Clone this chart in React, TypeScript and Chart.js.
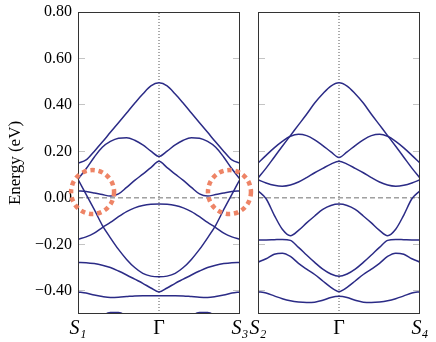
import React, { useEffect, useRef } from 'react';
import { Chart, registerables } from 'chart.js';

Chart.register(...registerables);

// path parameter (S -> Γ -> S), Γ at 0.5
const tGrid = [0, 0.05, 0.1, 0.15, 0.2, 0.25, 0.3, 0.35, 0.4, 0.45, 0.5, 0.55, 0.6, 0.65, 0.7, 0.75, 0.8, 0.85, 0.9, 0.95, 1];

// Left panel: S1 -> Γ -> S3
const left1 = [0.150, 0.163, 0.200, 0.240, 0.282, 0.323, 0.365, 0.407, 0.447, 0.482, 0.495, 0.482, 0.447, 0.407, 0.365, 0.323, 0.282, 0.240, 0.200, 0.163, 0.150];
const left2 = [0.080, 0.125, 0.175, 0.218, 0.243, 0.257, 0.259, 0.248, 0.228, 0.201, 0.178, 0.201, 0.228, 0.248, 0.259, 0.257, 0.243, 0.218, 0.175, 0.125, 0.080];
const left3 = [0.030, 0.027, 0.021, 0.014, 0.008, 0.017, 0.045, 0.075, 0.102, 0.130, 0.157, 0.130, 0.102, 0.075, 0.045, 0.017, 0.008, 0.014, 0.021, 0.027, 0.030];
const left4 = [-0.178, -0.168, -0.152, -0.128, -0.106, -0.081, -0.059, -0.043, -0.033, -0.028, -0.027, -0.028, -0.033, -0.043, -0.059, -0.081, -0.106, -0.128, -0.152, -0.168, -0.178];
const left5 = [0.080, 0.015, -0.050, -0.118, -0.172, -0.222, -0.265, -0.300, -0.325, -0.337, -0.340, -0.337, -0.325, -0.300, -0.265, -0.222, -0.172, -0.118, -0.050, 0.015, 0.080];
const left6 = [-0.278, -0.279, -0.283, -0.290, -0.300, -0.315, -0.332, -0.350, -0.368, -0.388, -0.405, -0.388, -0.368, -0.350, -0.332, -0.315, -0.300, -0.290, -0.283, -0.279, -0.278];
const left7 = [-0.405, -0.410, -0.418, -0.425, -0.429, -0.428, -0.425, -0.422, -0.421, -0.421, -0.421, -0.421, -0.421, -0.422, -0.425, -0.428, -0.429, -0.425, -0.418, -0.410, -0.405];
const left8 = [-0.560, -0.550, -0.535, -0.508, -0.494, -0.494, -0.508, -0.530, -0.548, -0.558, -0.560, -0.558, -0.548, -0.530, -0.508, -0.494, -0.494, -0.508, -0.535, -0.550, -0.560];

// Right panel: S2 -> Γ -> S4
const right1 = [0.085, 0.128, 0.175, 0.222, 0.268, 0.314, 0.360, 0.408, 0.448, 0.481, 0.495, 0.481, 0.448, 0.408, 0.360, 0.314, 0.268, 0.222, 0.175, 0.128, 0.085];
const right2 = [0.150, 0.183, 0.215, 0.243, 0.265, 0.274, 0.268, 0.250, 0.225, 0.198, 0.174, 0.198, 0.225, 0.250, 0.268, 0.274, 0.265, 0.243, 0.215, 0.183, 0.150];
const right3 = [0.078, 0.064, 0.054, 0.050, 0.055, 0.068, 0.087, 0.108, 0.127, 0.145, 0.158, 0.145, 0.127, 0.108, 0.087, 0.068, 0.055, 0.050, 0.054, 0.064, 0.078];
const right4 = [0.030, -0.004, -0.074, -0.135, -0.163, -0.140, -0.108, -0.078, -0.050, -0.033, -0.027, -0.033, -0.050, -0.078, -0.108, -0.140, -0.163, -0.135, -0.074, -0.004, 0.030];
const right5 = [-0.181, -0.181, -0.180, -0.179, -0.183, -0.213, -0.246, -0.278, -0.307, -0.328, -0.338, -0.328, -0.307, -0.278, -0.246, -0.213, -0.183, -0.179, -0.180, -0.181, -0.181];
const right6 = [-0.277, -0.262, -0.243, -0.238, -0.252, -0.282, -0.307, -0.330, -0.358, -0.385, -0.403, -0.385, -0.358, -0.330, -0.307, -0.282, -0.252, -0.238, -0.243, -0.262, -0.277];
const right7 = [-0.404, -0.410, -0.422, -0.434, -0.443, -0.448, -0.450, -0.449, -0.441, -0.429, -0.424, -0.429, -0.441, -0.449, -0.450, -0.448, -0.443, -0.434, -0.422, -0.410, -0.404];

const leftBands = [left1, left2, left3, left4, left5, left6, left7, left8];
const rightBands = [right1, right2, right3, right4, right5, right6, right7];

const yTicks = [-0.4, -0.2, 0, 0.2, 0.4, 0.6, 0.8];
const xTickValues = [0, 0.5, 1];
const leftXLabels = ['S\u2081', '\u0393', 'S\u2083'];
const rightXLabels = ['S\u2082', '\u0393', 'S\u2084'];

// highlighted regions (path parameter, energy)
const highlightT = [0.09, 0.935];
const highlightE = [0.025, 0.025];

const FONT = "'Liberation Serif', 'DejaVu Serif', serif";
const BAND_COLOR = '#2b2b86';

function fmt(v: number) {
  const r = Math.round(v * 100) / 100;
  return (r < 0 ? '\u2212' : '') + Math.abs(r).toFixed(2);
}

function makeDatasets(bands: number[][]) {
  const ds: any[] = bands.map((vals) => ({
    data: tGrid.map((t, i) => ({ x: t, y: vals[i] })),
    borderColor: BAND_COLOR,
    borderWidth: 1.5,
    pointRadius: 0,
    fill: false,
    cubicInterpolationMode: 'monotone',
  }));
  ds.push({
    data: [{ x: 0, y: 0 }, { x: 1, y: 0 }],
    borderColor: '#707070',
    borderWidth: 1,
    borderDash: [5, 3],
    pointRadius: 0,
    fill: false,
    tension: 0,
  });
  ds.push({
    data: [{ x: 0.5, y: -0.5 }, { x: 0.5, y: 0.8 }],
    borderColor: '#555555',
    borderWidth: 1,
    borderDash: [1, 2],
    pointRadius: 0,
    fill: false,
    tension: 0,
  });
  return ds;
}

const framePlugin = {
  id: 'frame',
  afterDatasetsDraw(chart: any) {
    const { ctx, chartArea } = chart;
    const l = Math.round(chartArea.left) + 0.5;
    const r = Math.round(chartArea.right) - 0.5;
    const t = Math.round(chartArea.top) + 0.5;
    const b = Math.round(chartArea.bottom) - 0.5;
    ctx.save();
    ctx.strokeStyle = '#333333';
    ctx.lineWidth = 1;
    ctx.setLineDash([]);
    ctx.strokeRect(l, t, r - l, b - t);
    ctx.restore();
  },
};

const circlePlugin = {
  id: 'circles',
  afterDraw(chart: any) {
    const { ctx } = chart;
    const xs = chart.scales.x;
    const ys = chart.scales.y;
    ctx.save();
    ctx.strokeStyle = '#ee8466';
    ctx.lineWidth = 4.5;
    ctx.setLineDash([4.5, 3.8]);
    for (let i = 0; i < highlightT.length; i++) {
      const cx = xs.getPixelForValue(highlightT[i]);
      const cy = ys.getPixelForValue(highlightE[i]);
      ctx.beginPath();
      ctx.ellipse(cx, cy, 21.5, 22, 0, 0, Math.PI * 2);
      ctx.stroke();
    }
    ctx.restore();
  },
};

function makeOptions(labels: string[], showY: boolean, padLeft: number, padRight: number, yWidth: number): any {
  const setYTicks = (s: any) => {
    s.ticks = yTicks.map((v) => ({ value: v }));
  };
  return {
    animation: false,
    responsive: false,
    maintainAspectRatio: false,
    layout: { padding: { left: padLeft, right: padRight, top: 12, bottom: 0 } },
    plugins: { legend: { display: false }, tooltip: { enabled: false } },
    scales: {
      x: {
        type: 'linear',
        position: 'bottom',
        min: 0,
        max: 1,
        afterBuildTicks: (s: any) => {
          s.ticks = xTickValues.map((v) => ({ value: v }));
        },
        afterFit: (s: any) => {
          s.height = 28;
          s.paddingLeft = 0;
          s.paddingRight = 0;
        },
        grid: { display: false, drawTicks: false },
        border: { display: false },
        ticks: {
          autoSkip: false,
          maxRotation: 0,
          minRotation: 0,
          padding: 3,
          color: '#000',
          font: (ctx: any) => ({ family: FONT, size: 20, style: ctx.index === 1 ? 'normal' : 'italic' }),
          callback: (_v: any, i: number) => labels[i],
        },
      },
      y: {
        type: 'linear',
        position: 'left',
        min: -0.5,
        max: 0.8,
        afterBuildTicks: setYTicks,
        afterFit: (s: any) => {
          s.width = yWidth;
          s.paddingTop = 0;
          s.paddingBottom = 0;
        },
        grid: { drawOnChartArea: false, drawTicks: true, tickLength: -7, tickColor: '#c4c4c4', tickWidth: 1 },
        border: { display: false },
        ticks: {
          display: showY,
          padding: 13,
          color: '#000',
          font: { family: FONT, size: 16 },
          callback: (v: any) => fmt(Number(v)),
        },
        title: {
          display: showY,
          text: 'Energy (eV)',
          color: '#000',
          font: { family: FONT, size: 17 },
          padding: { top: 5, bottom: 0 },
        },
      },
      y2: {
        type: 'linear',
        position: 'right',
        min: -0.5,
        max: 0.8,
        afterBuildTicks: setYTicks,
        afterFit: (s: any) => {
          s.width = 0;
          s.paddingTop = 0;
          s.paddingBottom = 0;
        },
        grid: { drawOnChartArea: false, drawTicks: true, tickLength: -7, tickColor: '#c4c4c4', tickWidth: 1 },
        border: { display: false },
        ticks: { display: false },
      },
    },
  };
}

export default function App() {
  const leftRef = useRef<HTMLCanvasElement | null>(null);
  const rightRef = useRef<HTMLCanvasElement | null>(null);

  useEffect(() => {
    const leftChart = new Chart(leftRef.current as HTMLCanvasElement, {
      type: 'line',
      data: { datasets: makeDatasets(leftBands) },
      options: makeOptions(leftXLabels, true, 0, 16, 78),
      plugins: [framePlugin, circlePlugin],
    } as any);
    const rightChart = new Chart(rightRef.current as HTMLCanvasElement, {
      type: 'line',
      data: { datasets: makeDatasets(rightBands) },
      options: makeOptions(rightXLabels, false, 18, 16, 0),
      plugins: [framePlugin],
    } as any);
    return () => {
      leftChart.destroy();
      rightChart.destroy();
    };
  }, []);

  return (
    <div style={{ position: 'fixed', left: 0, top: 0, width: 436, height: 342, background: '#fff' }}>
      <canvas
        ref={rightRef}
        width={196}
        height={342}
        style={{ position: 'absolute', left: 240, top: 0, width: 196, height: 342, zIndex: 1 }}
      />
      <canvas
        ref={leftRef}
        width={256}
        height={342}
        style={{ position: 'absolute', left: 0, top: 0, width: 256, height: 342, zIndex: 2 }}
      />
    </div>
  );
}
